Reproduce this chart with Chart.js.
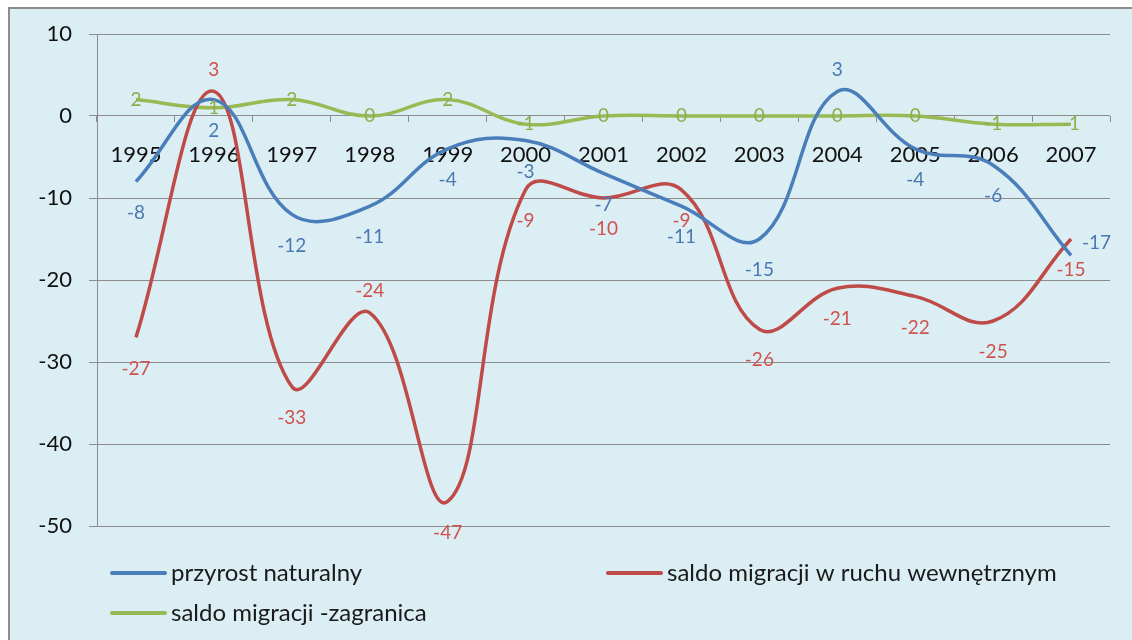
<!DOCTYPE html>
<html>
<head>
<meta charset="utf-8">
<script src="https://cdn.jsdelivr.net/npm/chart.js@4.4.1/dist/chart.umd.min.js"></script>
<style>
html, body { margin: 0; padding: 0; background: #fff; }
body { width: 1132px; height: 640px; position: relative; overflow: hidden; }
#frame { position: absolute; left: 8px; top: 7px; width: 1140px; height: 650px; background: #dbeef4; border: 2px solid #8c8c8c; }
#wrap { position: absolute; left: 0; top: 0; width: 1132px; height: 640px; }
</style>
</head>
<body>
<div id="frame"></div>
<div id="wrap"><canvas id="chart" width="1132" height="640"></canvas></div>
<script>
// lata
var years = ['1995', '1996', '1997', '1998', '1999', '2000', '2001', '2002', '2003', '2004', '2005', '2006', '2007'];
// serie
var przyrostNaturalny = [-8, 2, -12, -11, -4, -3, -7, -11, -15, 3, -4, -6, -17];
var saldoWewnetrzne = [-27, 3, -33, -24, -47, -9, -10, -9, -26, -21, -22, -25, -15];
var saldoZagranica = [2, 1, 2, 0, 2, -1, 0, 0, 0, 0, 0, -1, -1];
// os Y
var yTicks = [10, 0, -10, -20, -30, -40, -50];

var FONT = 'Lato, "Open Sans", sans-serif';
var GRID = '#8c8c8c';

// etykiety wartosci przy punktach
var pointLabels = {
  id: 'pointLabels',
  afterDatasetsDraw: function (chart) {
    var ctx = chart.ctx;
    chart.data.datasets.forEach(function (ds, di) {
      var meta = chart.getDatasetMeta(di);
      ctx.save();
      ctx.font = '19px ' + FONT;
      ctx.fillStyle = ds.labelColor;
      ctx.textBaseline = 'middle';
      meta.data.forEach(function (pt, i) {
        var pos = (ds.labelOverride && ds.labelOverride[i]) || ds.labelPos;
        var x = pt.x, y = pt.y;
        ctx.textAlign = 'center';
        if (pos === 'below') y += 31;
        else if (pos === 'above') y -= 22;
        else if (pos === 'right') { ctx.textAlign = 'left'; x += 11; y -= 13; }
        ctx.fillText(String(ds.data[i]), x, y);
      });
      ctx.restore();
    });
  }
};

// legenda w dwoch kolumnach
var legendBox = {
  id: 'legendBox',
  afterDraw: function (chart) {
    var ctx = chart.ctx;
    var slots = [[112, 573], [608, 573], [112, 613]];
    ctx.save();
    ctx.font = '24px ' + FONT;
    ctx.textBaseline = 'middle';
    ctx.textAlign = 'left';
    chart.data.datasets.forEach(function (ds, i) {
      var s = slots[i];
      ctx.strokeStyle = ds.borderColor;
      ctx.lineWidth = 4;
      ctx.lineCap = 'round';
      ctx.beginPath();
      ctx.moveTo(s[0], s[1]);
      ctx.lineTo(s[0] + 53, s[1]);
      ctx.stroke();
      ctx.fillStyle = '#1a1a1a';
      ctx.fillText(ds.label, s[0] + 59, s[1]);
    });
    ctx.restore();
  }
};

new Chart(document.getElementById('chart'), {
  type: 'line',
  data: {
    labels: years,
    datasets: [
      {
        label: 'przyrost naturalny',
        data: przyrostNaturalny,
        borderColor: '#4a7ebb',
        labelColor: '#4a78b2',
        labelPos: 'below',
        labelOverride: { 9: 'above', 12: 'right' }
      },
      {
        label: 'saldo migracji w ruchu wewnętrznym',
        data: saldoWewnetrzne,
        borderColor: '#be4b48',
        labelColor: '#d0524f',
        labelPos: 'below',
        labelOverride: { 1: 'above', 3: 'above' }
      },
      {
        label: 'saldo migracji -zagranica',
        data: saldoZagranica,
        borderColor: '#98b954',
        labelColor: '#8cb04c',
        labelPos: 'center'
      }
    ]
  },
  options: {
    responsive: false,
    animation: false,
    devicePixelRatio: 1,
    layout: { padding: { top: 34, right: 22, bottom: 114, left: 0 } },
    elements: {
      line: { borderWidth: 3.5, tension: 0.4, fill: false },
      point: { radius: 0, hoverRadius: 0 }
    },
    plugins: {
      legend: { display: false },
      tooltip: { enabled: false }
    },
    scales: {
      x: {
        position: { y: 0 },
        offset: true,
        grid: { drawOnChartArea: false, drawTicks: true, tickLength: 6, color: GRID, offset: true },
        border: { display: false },
        ticks: { font: { family: FONT, size: 22 }, color: '#111', padding: 20, maxRotation: 0, autoSkip: false }
      },
      y: {
        min: -50,
        max: 10,
        afterFit: function (s) { s.width = 97; },
        afterBuildTicks: function (s) { s.ticks = yTicks.map(function (v) { return { value: v }; }); },
        grid: { color: GRID, lineWidth: 1, tickLength: 8 },
        border: { display: true, color: GRID, width: 1 },
        ticks: { font: { family: FONT, size: 22 }, color: '#111', padding: 17 }
      }
    }
  },
  plugins: [pointLabels, legendBox]
});
</script>
</body>
</html>
